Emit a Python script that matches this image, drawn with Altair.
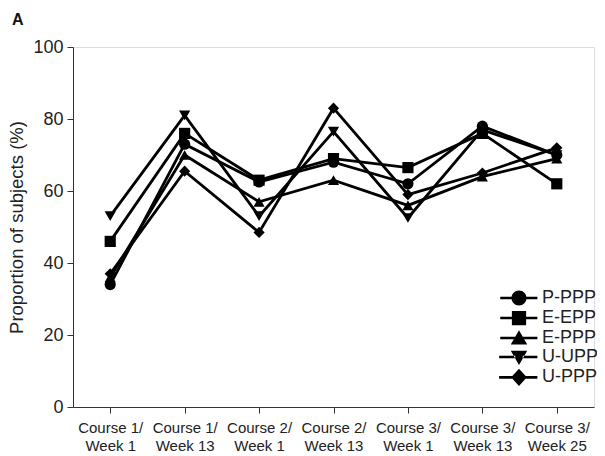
import altair as alt
import pandas as pd

timepoints = ["Course 1/ Week 1", "Course 1/ Week 13", "Course 2/ Week 1", "Course 2/ Week 13",
              "Course 3/ Week 1", "Course 3/ Week 13", "Course 3/ Week 25"]
series_names = ["P-PPP", "E-EPP", "E-PPP", "U-UPP", "U-PPP"]
p_ppp = [34, 73, 62.5, 68, 62, 78, 70]
e_epp = [46, 76, 63, 69, 66.5, 76, 62]
e_ppp = [36, 70, 57, 63, 56, 64, 69]
u_upp = [53, 81, 53, 76.5, 52.5, 77, 70]
u_ppp = [37, 65.5, 48.5, 83, 59, 65, 72]
values = [p_ppp, e_epp, e_ppp, u_upp, u_ppp]
shapes = ["circle", "square", "triangle-up", "triangle-down", "diamond"]

# legend glyphs: marker with a horizontal line through it (line drawn as two thin filled bars)
BARS = "M-2.5,-0.18L-0.5,-0.18L-0.5,0.18L-2.5,0.18ZM0.5,-0.18L2.45,-0.18L2.45,0.18L0.5,0.18Z"
BARS_W = "M-2.65,-0.18L-0.5,-0.18L-0.5,0.18L-2.65,0.18ZM0.5,-0.18L2.45,-0.18L2.45,0.18L0.5,0.18Z"
legend_paths = [
    BARS + "M-1,0A1,1,0,1,1,1,0A1,1,0,1,1,-1,0Z",
    BARS + "M-0.95,-0.95L0.95,-0.95L0.95,0.95L-0.95,0.95Z",
    BARS + "M0,-1.05L1.1,0.85L-1.1,0.85Z",
    BARS_W + "M0,1.05L1.1,-0.85L-1.1,-0.85Z",
    BARS_W + "M0,-1.15L1.05,0L0,1.15L-1.05,0Z",
]

rows = []
for name, vals in zip(series_names, values):
    for t, v in zip(timepoints, vals):
        rows.append({"time": t, "series": name, "value": v})
df = pd.DataFrame(rows)

FONT = "Liberation Sans"
TXT = "#222222"

x_enc = alt.X(
    "time:N", sort=timepoints, title=None,
    scale=alt.Scale(type="point", padding=0.5),
    axis=alt.Axis(labelAngle=0, labelFontSize=15, labelColor=TXT, labelFont=FONT,
                  labelExpr="[split(datum.label, '/ ')[0] + '/', split(datum.label, '/ ')[1]]",
                  labelLineHeight=18.5, labelPadding=7, tickSize=6, tickColor="#333",
                  domainColor="#333", grid=False, labelBaseline="top"),
)
y_enc = alt.Y(
    "value:Q", title="Proportion of subjects (%)",
    scale=alt.Scale(domain=[0, 100], nice=False),
    axis=alt.Axis(values=[0, 20, 40, 60, 80, 100], labelFontSize=18, labelColor=TXT,
                  labelFont=FONT, titleFont=FONT, titleFontSize=18.5, titleFontWeight="normal",
                  titleColor=TXT, titlePadding=6, tickSize=6, tickColor="#333",
                  domainColor="#333", grid=False, labelPadding=4),
)

base = alt.Chart(df)

lines = base.mark_line(color="black", strokeWidth=2.8).encode(
    x=x_enc, y=y_enc, detail="series:N"
)

point_layers = [
    base.transform_filter(alt.datum.series == name)
    .mark_point(filled=True, color="black", size=125, opacity=1, shape=shp)
    .encode(x=x_enc, y=y_enc)
    for name, shp in zip(series_names, shapes)
]

legend_layer = base.mark_point(filled=True, color="black", opacity=0, size=225).encode(
    x=x_enc, y=y_enc,
    shape=alt.Shape(
        "series:N", sort=series_names,
        scale=alt.Scale(domain=series_names, range=legend_paths),
        legend=alt.Legend(
            title=None, orient="none", legendX=437, legendY=242, padding=0,
            labelFontSize=18, labelFont=FONT, labelColor=TXT, labelOffset=14,
            symbolSize=225, rowPadding=-2.7,
            symbolFillColor="black", symbolOpacity=1,
        ),
    ),
)

chart = alt.layer(lines, *point_layers, legend_layer).properties(
    width=521, height=360,
    autosize=alt.AutoSizeParams(type="none"),
    padding={"left": 65, "top": 39, "right": 3, "bottom": 49},
    title=alt.Title("A", anchor="start", frame="group", dx=-61, offset=10,
                    fontSize=16, fontWeight="bold", font=FONT, color="#111"),
).configure_view(stroke=None).configure(background="white")

chart.save("out.html", embed_options={"renderer": "svg", "actions": False})
